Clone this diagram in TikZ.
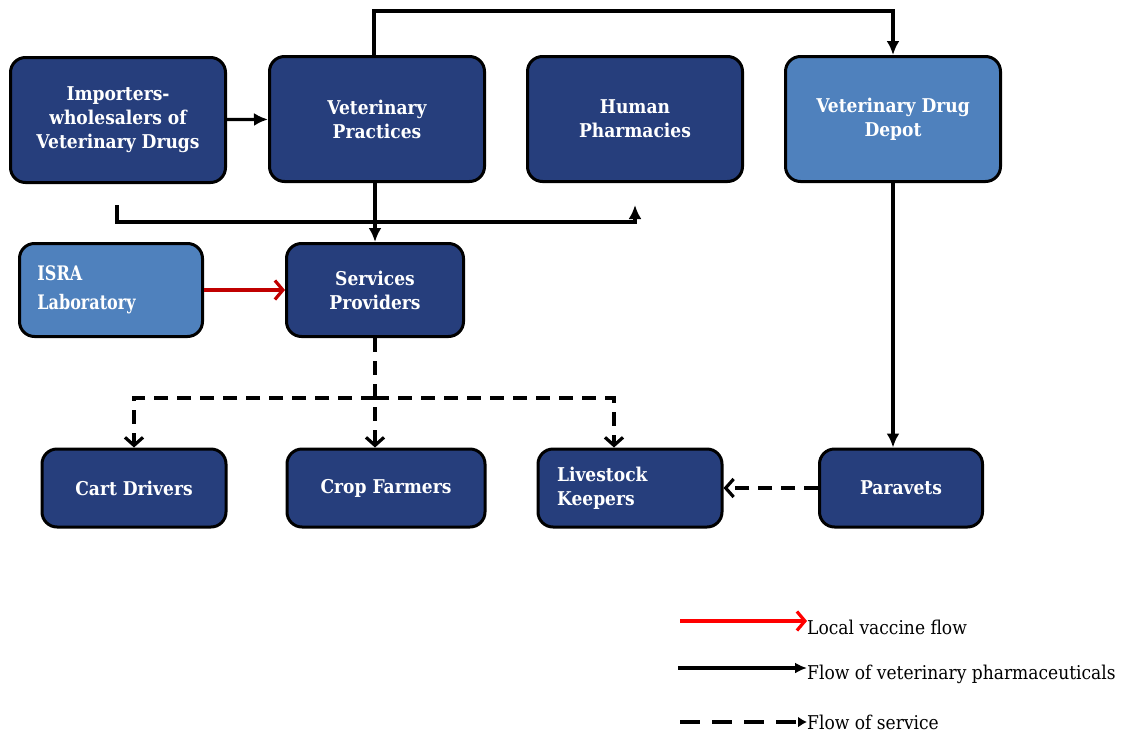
\documentclass[tikz,border=0pt]{standalone}
\usepackage{fontspec}
\setmainfont{DejaVu Serif}[FakeStretch=0.9]
\newfontfamily\narrowfont[FakeStretch=0.8]{DejaVu Serif}
\usepackage{tikz}
\usetikzlibrary{positioning, arrows.meta}
\usepackage{xcolor}

\definecolor{darkbox}{RGB}{38,62,124}
\definecolor{lightbox}{RGB}{79,129,189}
\definecolor{vaccred}{RGB}{192,0,0}

\begin{document}
\begin{tikzpicture}[x=1pt, y=-1pt,
    actor/.style={draw=black, line width=3pt, rounded corners=15pt, fill=darkbox,
        text=white, font=\bfseries\fontsize{19}{24}\selectfont, align=center, inner sep=2pt},
    bigbox/.style={actor, minimum width=215pt, minimum height=125pt},
    smallbox/.style={actor, minimum height=78pt},
    pharma/.style={line width=3.2pt, -{Latex[length=14pt, width=13pt]}},
    service/.style={line width=3.2pt, dash pattern=on 14pt off 9pt, -{Straight Barb[length=8pt, width=18pt]}},
    vaccine/.style={line width=3.2pt, vaccred, -{Straight Barb[length=8pt, width=19pt]}}]
    \useasboundingbox (0,0) rectangle (1125,734);

    % Define the boxes
    % Top row
    \node[bigbox] (importers) at (118,120) {Importers-\\wholesalers of\\Veterinary Drugs};
    \node[bigbox] (vetprac) at (377,119) {Veterinary\\Practices};
    \node[bigbox] (pharmacies) at (635,119) {Human\\Pharmacies};
    \node[bigbox, fill=lightbox] (depot) at (893,119) {Veterinary Drug\\Depot};

    % Middle row
    \node[actor, fill=lightbox, minimum width=183pt, minimum height=93pt, text width=147pt,
        align=left, font=\narrowfont\bfseries\fontsize{20}{29}\selectfont] (isra) at (111,290) {ISRA\\Laboratory};
    \node[actor, minimum width=177pt, minimum height=93pt] (services) at (375,290) {Services\\Providers};

    % Bottom row
    \node[smallbox, minimum width=184pt] (cart) at (134,488) {Cart Drivers};
    \node[smallbox, minimum width=198pt] (crop) at (386,488) {Crop Farmers};
    \node[smallbox, minimum width=184pt, text width=146pt, align=left] (livestock) at (630,488) {Livestock\\Keepers};
    \node[smallbox, minimum width=163pt] (paravets) at (901,488) {Paravets};

    % Draw the Edges
    % Flow of veterinary pharmaceuticals
    \draw[pharma] (importers) -- (vetprac);
    \draw[pharma] ([xshift=-3pt]vetprac.north) -- ++(0,-44) -| (depot.north);
    \draw[pharma] ([xshift=-2pt]vetprac.south) -- (services.north);
    \coordinate (impdrop) at (117,205);
    \coordinate (pharmdrop) at (635,205);
    \draw[pharma] (impdrop) -- ++(0,17) -| (pharmdrop);
    \draw[pharma] (depot.south) -- (depot.south |- paravets.north);

    % Local vaccine
    \draw[vaccine] (isra) -- (services);

    % Flow of service
    \coordinate (split) at (375,398);
    \draw[service] (services.south) -- (services.south |- crop.north);
    \draw[service] (split) -| (cart.north);
    \draw[service] (split) -| ([xshift=-16pt]livestock.north);
    \draw[service] (paravets) -- (livestock);

    % Legend
    \node[anchor=west, inner sep=0pt, font=\fontsize{19}{22}\selectfont] (legvac) at (807,627) {Local vaccine flow};
    \node[anchor=west, inner sep=0pt, font=\fontsize{19}{22}\selectfont] (legpharma) at (807,674) {Flow of veterinary pharmaceuticals};
    \node[anchor=west, inner sep=0pt, font=\fontsize{19}{22}\selectfont] (legservice) at (807,722) {Flow of service};
    \coordinate (vacstart) at (680,621);
    \coordinate (pharmastart) at (678,668);
    \coordinate (servicestart) at (680,722);
    \draw[line width=3.2pt, red, -{Straight Barb[length=8pt, width=19pt]}] (vacstart) -- (vacstart -| legvac.west);
    \draw[line width=3.2pt, -{Latex[length=12pt, width=11pt]}] (pharmastart) -- (pharmastart -| legpharma.west);
    \draw[line width=3.2pt, dash pattern=on 20pt off 12pt, -{Latex[length=9pt, width=11pt]}] (servicestart) -- (servicestart -| legservice.west);

\end{tikzpicture}
\end{document}
